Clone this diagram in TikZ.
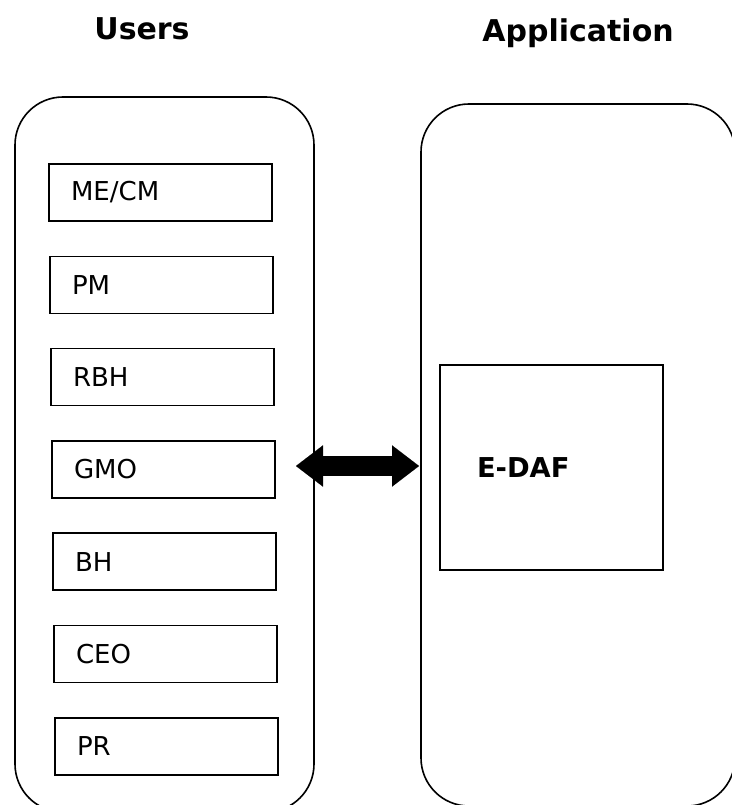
\documentclass[tikz,border=0pt]{standalone}
\usepackage{fontspec}
\setmainfont{DejaVu Sans}
\usetikzlibrary{arrows.meta}
\begin{document}
\begin{tikzpicture}[x=0.75pt,y=-0.75pt,
  container/.style={draw, line width=1.2pt, rounded corners=36pt, inner sep=0pt},
  ubox/.style={draw, line width=1.1pt, minimum height=42.75pt, text width=134.25pt,
     align=left, inner xsep=16.5pt, inner ysep=0pt, font=\fontsize{19.5}{23}\selectfont},
  title/.style={font=\fontsize{22.5}{26}\selectfont\bfseries, anchor=base, inner sep=0pt},
  bigarrow/.style={line width=15.5pt,
     {Triangle[length=20.25pt, width=31pt, line width=0.01pt]}-{Triangle[length=20.25pt, width=31pt, line width=0.01pt]}},
]
\useasboundingbox (0,0) rectangle (731,805);
% titles
\node[title] (tusers) at (142,40) {Users};
\node[title] (tapp) at (578,42) {Application};
% containers
\node[container, minimum width=224.25pt, minimum height=536.25pt] (users) at (164.5,454.5) {};
\node[container, minimum width=235.5pt, minimum height=526.5pt] (app) at (578,455) {};
% user boxes
\node[ubox] (mecm) at (160.5,192.5) {ME/CM};
\node[ubox] (pm)   at (161.5,284.8) {PM};
\node[ubox] (rbh)  at (162.5,377.1) {RBH};
\node[ubox] (gmo)  at (163.5,469.4) {GMO};
\node[ubox] (bh)   at (164.5,561.7) {BH};
\node[ubox] (ceo)  at (165.5,654.0) {CEO};
\node[ubox] (pr)   at (166.5,746.3) {PR};
% application box
\node[draw, line width=1.1pt, minimum width=167.25pt, minimum height=153.75pt,
      text width=111.75pt, align=left, inner xsep=27.75pt, inner ysep=0pt,
      font=\fontsize{20.5}{24}\selectfont\bfseries] (edaf) at (551.5,467.5) {E-DAF};
% arrow
\coordinate (al) at (296,466);
\coordinate (ar) at (419,466);
\draw[bigarrow] (al) -- (ar);
\end{tikzpicture}
\end{document}
